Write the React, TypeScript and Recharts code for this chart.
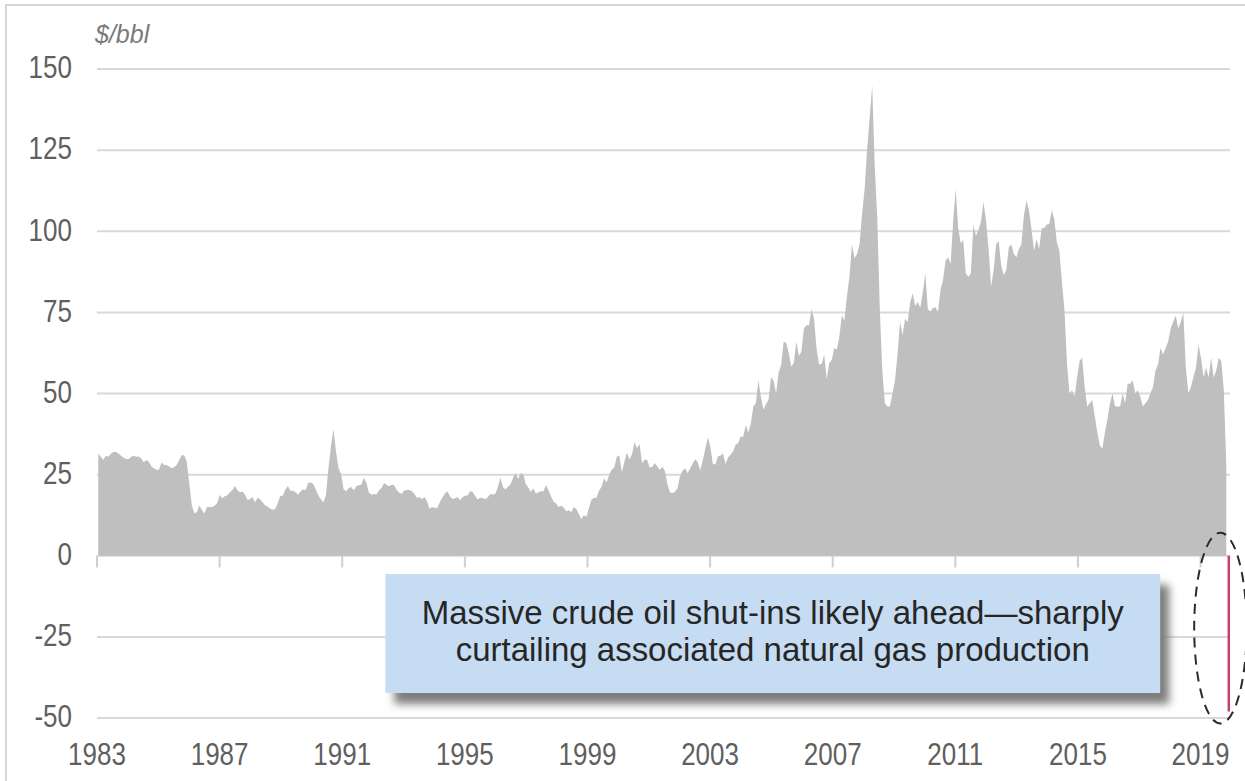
import React from 'react';
import {
  ComposedChart,
  Area,
  XAxis,
  YAxis,
  CartesianGrid,
  ReferenceLine,
  ReferenceArea,
} from 'recharts';

// Monthly crude oil price ($/bbl)
const prices1983to1989 = [
  31.5, 30.5, 29.5, 30.8, 30.5, 31.5, 32, 32, 31.5, 30.8, 30.2, 29.8,
  29.8, 30.5, 30.8, 30.5, 30.6, 30, 28.8, 29.5, 29, 27.5, 27, 26.5,
  26.5, 28.7, 28, 28, 27.5, 27, 27.3, 28, 29.5, 31, 31, 29,
  22, 15.5, 13, 13.5, 15.5, 14, 13, 15, 15, 15, 15.5, 16.2,
  18.7, 17.7, 18.3, 18.6, 19.6, 20.2, 21.5, 20.3, 19.5, 19.8, 18.9, 17.2,
  17.5, 18, 16.5, 17.9, 17.4, 16.5, 15.5, 15.2, 14.5, 14.2, 14.5, 16.3,
  18.5, 18.5, 20.5, 21.5, 20, 20, 19.6, 18.8, 19.8, 20.5, 20.2, 22.5,
];
const prices1990to1999 = [
  22.6, 22.1, 20.4, 18.6, 17.5, 16.5, 18.6, 27, 33.7, 39, 32, 27,
  25.2, 20.5, 19.9, 20.8, 21.2, 20.2, 21.4, 21.7, 21.9, 24, 22.5, 19.5,
  18.8, 19, 18.9, 20.2, 20.9, 22.4, 21.8, 21.4, 21.9, 21.7, 20.3, 19.4,
  19.1, 20.1, 20.3, 20.3, 19.9, 19.1, 17.9, 18, 17.5, 18.1, 16.7, 14.5,
  15, 14.8, 14.7, 16.4, 17.9, 19.1, 19.9, 18.4, 17.5, 17.7, 18.1, 17.2,
  18, 18.5, 18.6, 19.9, 19.7, 18.4, 17.3, 17.9, 17.8, 17.4, 18, 19,
  18.9, 19.1, 21.3, 24, 21.2, 20.4, 21.3, 22, 24, 25.5, 23.7, 25.4,
  25.2, 22.2, 21, 19.7, 20.8, 19.2, 19.6, 19.9, 19.8, 21.8, 20.2, 18.3,
  16.7, 16.1, 15, 15.4, 14.9, 13.7, 14.1, 13.4, 15, 14.4, 12.9, 11.3,
  12.5, 12, 14.7, 17.3, 17.8, 17.9, 20.1, 21.3, 23.9, 22.6, 25, 26.5,
];
const prices2000to2009 = [
  27.2, 30.5, 31, 25.7, 28.8, 31.8, 29.7, 31.2, 35, 33.1, 34.4, 28.5,
  29.6, 29.6, 27.2, 27.4, 28.6, 27.6, 26.4, 27.4, 26.2, 22.2, 19.6, 19.3,
  19.7, 20.7, 24.4, 26.2, 27, 25.5, 26.9, 28.4, 29.7, 28.9, 26.3, 29.4,
  32.9, 36.5, 33.6, 28.3, 28.1, 30.7, 30.8, 31.6, 28.3, 30.3, 31.1, 32.2,
  34.3, 34.7, 36.8, 36.7, 40.3, 38, 40.7, 46, 47, 54, 49, 45,
  46.8, 48, 55, 54, 50, 56.5, 58.7, 66, 65.6, 62.4, 58.3, 59.4,
  66, 61.6, 62.9, 70, 71, 71, 76, 73, 63.8, 58.9, 59.1, 62,
  54.5, 59.3, 60.4, 64, 63.5, 67.5, 74.1, 72.4, 79.9, 86, 96, 91.7,
  93, 96, 105.5, 113, 125.4, 135, 145, 120, 104, 76, 57, 47,
  46, 46, 50, 54, 62, 72, 68, 73, 72, 78, 81, 77,
];
const prices2010to2020 = [
  78.2, 76.4, 81.2, 87, 76, 75.3, 76.3, 76.6, 75.2, 81.9, 85, 91,
  92, 90, 103, 113, 101, 96.3, 97.3, 87, 86, 87, 102, 98.6,
  100.3, 103, 109, 103.3, 94.7, 83, 88, 96, 97, 89.5, 86.5, 88,
  95, 96, 93, 92, 94.5, 96, 105, 109.5, 106.3, 100.5, 94, 97.6,
  94.6, 101, 101, 102.1, 102.2, 106.5, 103.6, 96.5, 94, 84.4, 75.8, 59.3,
  50, 51, 49, 55, 60, 61, 52, 46, 47, 48, 43, 38,
  34, 33, 38, 42, 47, 50, 46, 46, 46, 50, 47, 53,
  53, 54, 50, 51, 49, 46, 47, 48, 50, 52, 57, 59,
  64, 62, 64, 66, 70, 72, 74, 70, 72, 75, 58, 50,
  52, 55, 58, 65, 61, 55, 58, 55, 61, 55, 57, 61,
  60, 51, 28,
];

// April 2020 negative price plunge
const plungeDate = 2020.29;
const plungeLow = -48;

const yTicks = [-50, -25, 0, 25, 50, 75, 100, 125, 150];
// dates of the labelled points on the source's trading-day axis
const xTickDates = [1983, 1987.04, 1991.08, 1995.12, 1999.16, 2003.2, 2007.24, 2011.28, 2015.32, 2019.36];

const calloutLines = [
  'Massive crude oil shut-ins likely ahead\u2014sharply',
  'curtailing associated natural gas production',
];
const calloutBox = { x1: 1992.5, x2: 2018.03, y1: -42.3, y2: -5.6 };
const highlightOval = { x1: 2019.15, x2: 2020.88, y1: -51.7, y2: 7.1 };

const blocks = [
  { start: 1983, values: prices1983to1989 },
  { start: 1990, values: prices1990to1999 },
  { start: 2000, values: prices2000to2009 },
  { start: 2010, values: prices2010to2020 },
];
const data = blocks.flatMap((b) =>
  b.values.map((price, i) => ({ year: b.start + (i + 0.5) / 12, price }))
);

const axisFont = "'Liberation Sans', Arial, sans-serif";
const boxFont = "'Liberation Sans', Arial, sans-serif";

const YTick = (props: any) => {
  const { x, y, payload } = props;
  return (
    <g transform={`translate(${x},${y}) scale(0.84,1)`}>
      <text x={0} y={0} dy="0.3em" textAnchor="end" fontFamily={axisFont} fontSize={31} fill="#5f5f5f">
        {payload.value}
      </text>
    </g>
  );
};

const XTick = (props: any) => {
  const { x, y, payload } = props;
  return (
    <g transform={`translate(${x},${y}) scale(0.84,1)`}>
      <text x={0} y={0} dy="0.71em" textAnchor="middle" fontFamily={axisFont} fontSize={31} fill="#5f5f5f">
        {Math.floor(payload.value)}
      </text>
    </g>
  );
};

const CalloutShape = (props: any) => {
  const { x, y, width, height } = props;
  const cx = x + width / 2;
  return (
    <g>
      <defs>
        <filter id="calloutBlur" x="-10%" y="-20%" width="120%" height="150%">
          <feGaussianBlur stdDeviation="4" />
        </filter>
      </defs>
      <rect x={x + 9} y={y + 11} width={width} height={height} fill="#7d7d7d" filter="url(#calloutBlur)" />
      <rect x={x} y={y} width={width} height={height} fill="#c6dcf2" />
      <text
        x={cx}
        y={y + height * 0.42}
        textAnchor="middle"
        fontFamily={boxFont}
        fontSize={34}
        fill="#262626"
        textLength={702}
        lengthAdjust="spacingAndGlyphs"
      >
        {calloutLines[0]}
      </text>
      <text
        x={cx}
        y={y + height * 0.727}
        textAnchor="middle"
        fontFamily={boxFont}
        fontSize={34}
        fill="#262626"
        textLength={634}
        lengthAdjust="spacingAndGlyphs"
      >
        {calloutLines[1]}
      </text>
    </g>
  );
};

const OvalShape = (props: any) => {
  const { x, y, width, height } = props;
  return (
    <ellipse
      cx={x + width / 2}
      cy={y + height / 2}
      rx={width / 2}
      ry={height / 2}
      fill="none"
      stroke="#2b2b2b"
      strokeWidth={2}
      strokeDasharray="10 7"
    />
  );
};

const UnitLabel = (props: any) => {
  const vb = props.viewBox || {};
  return (
    <text
      x={vb.x + vb.width - 2}
      y={vb.y - 26}
      textAnchor="start"
      fontFamily={boxFont}
      fontStyle="italic"
      fontSize={25}
      fill="#7a7a7a"
    >
      $/bbl
    </text>
  );
};

export default function App() {
  return (
    <div style={{ position: 'absolute', left: 0, top: 0, width: 1245, height: 781, background: '#fff' }}>
      <div
        style={{
          position: 'absolute',
          left: 5,
          top: 4,
          right: 0,
          bottom: 0,
          borderTop: '2px solid #d6d6d6',
          borderLeft: '2px solid #d6d6d6',
        }}
      />
      <ComposedChart
        width={1245}
        height={781}
        data={data}
        margin={{ top: 69, right: 15, bottom: 23, left: 0 }}
        style={{ position: 'absolute', left: 0, top: 0 }}
      >
        <CartesianGrid horizontal vertical={false} stroke="#d9d9d9" strokeWidth={2} />
        <XAxis
          dataKey="year"
          type="number"
          domain={[1983, 2020.33]}
          ticks={xTickDates}
          axisLine={false}
          tickLine={false}
          tickSize={0}
          tickMargin={25}
          height={40}
          allowDataOverflow
          tick={XTick}
        />
        <YAxis
          type="number"
          domain={[-50, 150]}
          ticks={yTicks}
          axisLine={false}
          tickLine={false}
          tickSize={0}
          tickMargin={25}
          width={97}
          tick={YTick}
          label={{ content: UnitLabel }}
        />
        <Area
          type="linear"
          dataKey="price"
          stroke="none"
          fill="#bfbfbf"
          fillOpacity={1}
          baseValue={0}
          isAnimationActive={false}
        />
        {xTickDates.map((d) => (
          <ReferenceLine
            key={d}
            segment={[{ x: d, y: 0 }, { x: d, y: -3.6 }]}
            stroke="#cfcfcf"
            strokeWidth={2}
          />
        ))}
        <ReferenceLine
          segment={[{ x: plungeDate, y: 0 }, { x: plungeDate, y: plungeLow }]}
          stroke="#cc3d70"
          strokeWidth={2.5}
        />
        <ReferenceArea
          x1={calloutBox.x1}
          x2={calloutBox.x2}
          y1={calloutBox.y1}
          y2={calloutBox.y2}
          ifOverflow="visible"
          shape={CalloutShape}
        />
        <ReferenceArea
          x1={highlightOval.x1}
          x2={highlightOval.x2}
          y1={highlightOval.y1}
          y2={highlightOval.y2}
          ifOverflow="visible"
          shape={OvalShape}
          zIndex={1000}
        />
      </ComposedChart>
    </div>
  );
}
